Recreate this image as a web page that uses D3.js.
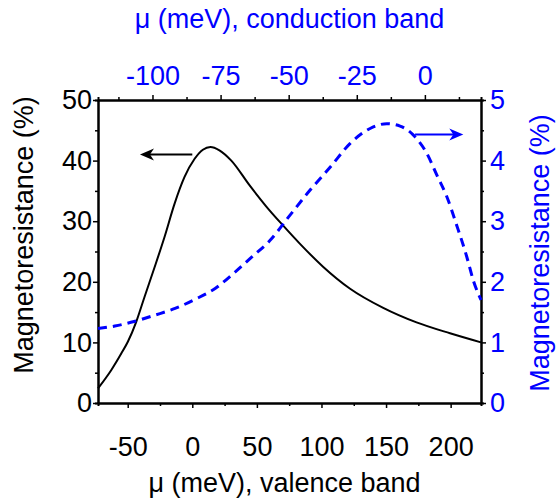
<!DOCTYPE html>
<html>
<head>
<meta charset="utf-8">
<script src="https://cdn.jsdelivr.net/npm/d3@7"></script>
<style>
  body { margin: 0; background: #fff; }
  svg { display: block; font-family: "Liberation Sans", Arial, sans-serif; }
</style>
</head>
<body>
<svg id="chart" width="557" height="500"></svg>
<script>
'use strict';

// valence band curve: bottom axis (meV) vs left axis (%)
let valenceMu = [-73, -62.8, -55, -49.9, -43.4, -37, -29.2, -21.5, -13.7, -6, 1.8, 8.2,
  14, 21, 30.2, 44.4, 57, 70.2, 83.2, 101.2, 121.9, 147.8, 173.6, 199.5, 223.5];
let valenceMR = [2.4, 5.4, 8.15, 10.1, 13.4, 17.5, 22.4, 27.4, 32.9, 37.3, 40.3, 41.8,
  42.25, 41.7, 40.0, 35.9, 32.5, 29.3, 26.3, 22.5, 18.9, 15.7, 13.3, 11.5, 10.0];

// conduction band curve: top axis (meV) vs right axis (%)
let conductionMu = [-120, -113.8, -106.4, -99.1, -91.7, -84.4, -77, -69.7, -63.5, -56.9,
  -49.5, -42.2, -34.8, -27.5, -20.1, -14.0, -9.1, -4.2, 0.7, 4.4, 8.1, 11.7, 15.4, 17.8, 20.6];
let conductionMR = [1.23, 1.27, 1.35, 1.45, 1.56, 1.71, 1.89, 2.16, 2.41, 2.68,
  3.10, 3.51, 3.89, 4.28, 4.53, 4.61, 4.57, 4.42, 4.12, 3.76, 3.40, 2.93, 2.41, 2.02, 1.70];

let bottomTicks = [-50, 0, 50, 100, 150, 200];
let bottomMinor = [-25, 25, 75, 125, 175];
let topTicks = [-100, -75, -50, -25, 0];
let topMinor = [-112.5, -87.5, -62.5, -37.5, -12.5, 12.5];
let leftTicks = [0, 10, 20, 30, 40, 50];
let leftMinor = [5, 15, 25, 35, 45];
let rightTicks = [0, 1, 2, 3, 4, 5];
let rightMinor = [0.5, 1.5, 2.5, 3.5, 4.5];

// arrows telling which curve belongs to which axis
let valenceArrow = [0, -40.5, 41];      // from mu, to mu, at MR
let conductionArrow = [-3.6, 14.1, 4.43];

let blue = '#0000ff';
let svg = d3.select('#chart');

let plot = {x: 98, y: 100, w: 383, h: 303};

let xBottom = d3.scaleLinear().domain([-73, 223.5]).range([plot.x, plot.x + plot.w]);
let xTop = d3.scaleLinear().domain([-120, 20.6]).range([plot.x, plot.x + plot.w]);
let yLeft = d3.scaleLinear().domain([0, 50]).range([plot.y + plot.h, plot.y]);
let yRight = d3.scaleLinear().domain([0, 5]).range([plot.y + plot.h, plot.y]);

let fmt = d => String(d);   // plain hyphen, no trailing .0

let styleAxis = (g, color) => {
  g.select('.domain').style('stroke', '#000').style('stroke-width', 2);
  g.selectAll('.tick line').style('stroke', '#000').style('stroke-width', 1.5);
  g.selectAll('.tick text')
    .style('font-size', '27px')
    .style('font-family', '"Liberation Sans", Arial, sans-serif')
    .style('fill', color);
};

// minor ticks first, majors on top
svg.append('g')
  .attr('transform', `translate(0,${plot.y + plot.h})`)
  .call(d3.axisBottom(xBottom).tickValues(bottomMinor).tickSize(3).tickFormat(''))
  .call(g => styleAxis(g, '#000'));
svg.append('g')
  .attr('transform', `translate(0,${plot.y})`)
  .call(d3.axisTop(xTop).tickValues(topMinor).tickSize(3).tickFormat(''))
  .call(g => styleAxis(g, blue));
svg.append('g')
  .attr('transform', `translate(${plot.x},0)`)
  .call(d3.axisLeft(yLeft).tickValues(leftMinor).tickSize(3).tickFormat(''))
  .call(g => styleAxis(g, '#000'));
svg.append('g')
  .attr('transform', `translate(${plot.x + plot.w},0)`)
  .call(d3.axisRight(yRight).tickValues(rightMinor).tickSize(3).tickFormat(''))
  .call(g => styleAxis(g, blue));

svg.append('g')
  .attr('transform', `translate(0,${plot.y + plot.h})`)
  .call(d3.axisBottom(xBottom).tickValues(bottomTicks).tickFormat(fmt)
    .tickSize(5).tickSizeOuter(0).tickPadding(29))
  .call(g => styleAxis(g, '#000'));
svg.append('g')
  .attr('transform', `translate(0,${plot.y})`)
  .call(d3.axisTop(xTop).tickValues(topTicks).tickFormat(fmt)
    .tickSize(5).tickSizeOuter(0).tickPadding(10))
  .call(g => styleAxis(g, blue));
svg.append('g')
  .attr('transform', `translate(${plot.x},0)`)
  .call(d3.axisLeft(yLeft).tickValues(leftTicks).tickFormat(fmt)
    .tickSize(5).tickSizeOuter(0).tickPadding(1))
  .call(g => styleAxis(g, '#000'));
svg.append('g')
  .attr('transform', `translate(${plot.x + plot.w},0)`)
  .call(d3.axisRight(yRight).tickValues(rightTicks).tickFormat(fmt)
    .tickSize(5).tickSizeOuter(0).tickPadding(4))
  .call(g => styleAxis(g, blue));

// curves
let valenceLine = d3.line()
  .x((d, i) => xBottom(valenceMu[i]))
  .y(d => yLeft(d))
  .curve(d3.curveMonotoneX);
svg.append('path')
  .datum(valenceMR)
  .attr('d', valenceLine)
  .style('fill', 'none')
  .style('stroke', '#000')
  .style('stroke-width', 2);

let conductionLine = d3.line()
  .x((d, i) => xTop(conductionMu[i]))
  .y(d => yRight(d))
  .curve(d3.curveMonotoneX);
svg.append('path')
  .datum(conductionMR)
  .attr('d', conductionLine)
  .style('fill', 'none')
  .style('stroke', blue)
  .style('stroke-width', 3)
  .style('stroke-dasharray', '9,6');

// arrows
let drawArrow = (x1, x2, y, color) => {
  let dir = x2 < x1 ? -1 : 1;
  let g = svg.append('g');
  g.append('line')
    .attr('x1', x1)
    .attr('x2', x2 - dir * 8)
    .attr('y1', y)
    .attr('y2', y)
    .style('stroke', color)
    .style('stroke-width', 2);
  g.append('path')
    .attr('d', 'M0,0 L-14,-6 L-10,0 L-14,6 Z')
    .attr('transform', `translate(${x2},${y}) scale(${dir},1)`)
    .style('fill', color);
};
drawArrow(xBottom(valenceArrow[0]), xBottom(valenceArrow[1]), yLeft(valenceArrow[2]), '#000');
drawArrow(xTop(conductionArrow[0]), xTop(conductionArrow[1]), yRight(conductionArrow[2]), blue);

// axis titles
svg.append('text')
  .attr('x', plot.x + plot.w / 2 - 5)
  .attr('y', 492)
  .style('text-anchor', 'middle')
  .style('font-size', '27px')
  .text('\u03bc (meV), valence band');
svg.append('text')
  .attr('x', plot.x + plot.w / 2)
  .attr('y', 28)
  .style('text-anchor', 'middle')
  .style('font-size', '27px')
  .style('fill', blue)
  .text('\u03bc (meV), conduction band');
svg.append('text')
  .attr('transform', 'translate(33,235) rotate(-90)')
  .style('text-anchor', 'middle')
  .style('font-size', '27px')
  .text('Magnetoresistance (%)');
svg.append('text')
  .attr('transform', 'translate(549,253) rotate(-90)')
  .style('text-anchor', 'middle')
  .style('font-size', '27px')
  .style('fill', blue)
  .text('Magnetoresistance (%)');
</script>
</body>
</html>
